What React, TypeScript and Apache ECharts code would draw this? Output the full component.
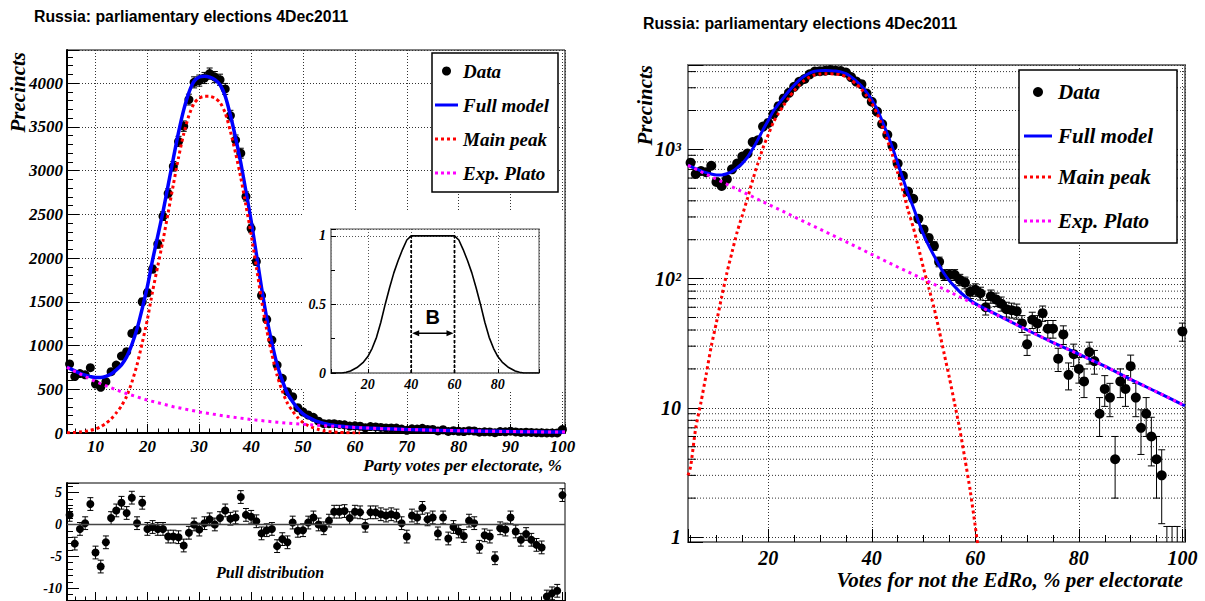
import React, { useEffect, useRef } from 'react';
import * as echarts from 'echarts';

// ---------- texts ----------
const TITLE = 'Russia: parliamentary elections 4Dec2011';
const X_TITLE_LEFT = 'Party votes per electorate, %';
const X_TITLE_RIGHT = 'Votes for not the EdRo, % per electorate';
const Y_TITLE = 'Precincts';
const PULL_TITLE = 'Pull distribution';
const LEGEND_LABELS = ['Data', 'Full model', 'Main peak', 'Exp. Plato'];
const PLATEAU_LABEL = 'B';

// ---------- data ----------
const BIN_FIRST = 5; // first bin centre, bins of width 1 up to 100
const COUNTS = [
  790, 645, 680, 665, 747, 560, 522, 587, 701, 777,
  880, 930, 1139, 1177, 1501, 1604, 1875, 2160, 2480, 2740,
  3050, 3335, 3509, 3813, 4010, 4030, 4060, 4110, 4070, 4040,
  3935, 3630, 3350, 3200, 2705, 2339, 1962, 1573, 1299, 1063,
  777, 625, 472, 415, 290, 240, 206, 179, 135, 107,
  107, 107, 98, 93, 79, 82, 77, 60, 73, 69,
  64, 58, 57, 56, 45, 31, 48, 45, 54, 41,
  41, 24, 37, 18, 26, 20, 16, 27, 23, 9,
  14, 12, 4, 16, 14, 21, 12, 7, 9, 6,
  4, 3, 0.5, 0.5, 0.5, 39,
];
const PULLS = [
  1.5, -3.0, -0.7, 0.2, 3.2, -4.4, -6.6, -2.8, 1.0, 2.2,
  3.4, 1.8, 4.2, 0.2, 3.4, -0.7, -0.4, -0.7, -0.7, -1.9,
  -1.9, -2.0, -3.3, -1.3, 0.0, -0.8, 0.2, 0.8, 0.0, 1.0,
  2.2, 0.9, 1.1, 4.3, 1.5, 1.2, 0.5, -1.4, -0.9, -0.7,
  -3.4, -2.3, -2.8, 0.3, -1.0, -0.9, 0.3, 1.1, 0.0, -0.6,
  0.6, 2.0, 2.0, 2.1, 1.0, 2.0, 1.9, -0.2, 1.9, 1.9,
  1.6, 1.4, 1.6, 1.4, 0.2, -1.9, 1.4, 1.1, 2.6, 0.8,
  1.1, -1.4, 1.1, -2.2, -0.4, -1.1, -1.8, 0.6, 0.2, -3.5,
  -1.7, -1.9, -5.3, -0.6, -0.8, 1.1, -1.1, -2.4, -1.5, -2.4,
  -3.2, -3.6, -11.3, -10.8, -10.4, 4.6,
];
const PULL_SIGMA = 1;

const PEAK_X = [4.5, 5, 6, 7, 8, 9, 10, 11, 12, 13, 14, 15, 16, 17, 18, 19, 20, 21, 22, 23, 24, 25, 26, 27, 28, 29, 30,
  31, 32, 33, 34, 35, 36, 37, 38, 39, 40, 41, 42, 43, 44, 45, 46, 47, 48, 49, 50, 51, 52, 53, 54, 55, 56, 57, 58, 59, 60, 61];
const PEAK_Y = [3, 3.5, 7, 11, 18, 30, 46, 72, 110, 160, 230, 310, 420, 580, 780, 1030, 1300, 1620, 1910, 2200, 2520, 2840,
  3150, 3420, 3630, 3770, 3830, 3850, 3850, 3830, 3780, 3660, 3450, 3200, 2920, 2600, 2270, 1900, 1520, 1180, 900, 660,
  480, 340, 250, 175, 120, 85, 60, 40, 26, 17, 10.8, 6.8, 4, 2.3, 1.2, 0.6];

const FULL_X = [4.5, 5, 6, 7, 8, 9, 10, 11, 12, 13, 14, 15, 16, 17, 18, 19, 20, 21, 22, 23, 24, 25, 26, 27, 28, 29, 30,
  31, 32, 33, 34, 35, 36, 37, 38, 39, 40, 41, 42, 43, 44, 45, 46, 47, 48, 49, 50, 51, 52, 53, 54, 55, 56, 57, 58, 59, 60, 61,
  65, 70, 75, 80, 85, 90, 95, 100, 100.5];
const FULL_Y = [755, 739, 710, 683, 661, 645, 634, 634, 648, 674, 722, 780, 870, 1010, 1191, 1423, 1676, 1980, 2254, 2529,
  2835, 3141, 3438, 3695, 3893, 4022, 4071, 4080, 4070, 4041, 3982, 3853, 3634, 3376, 3089, 2761, 2424, 2048, 1661, 1315,
  1029, 783, 598, 453, 358, 278, 219, 180, 151, 127, 109, 96, 87, 79, 73, 68, 64, 61,
  50.5, 40, 32, 26, 21, 16.6, 13.3, 10.6, 10.4];

const PLATO_X = [4.5, 5, 10, 15, 20, 25, 30, 35, 40, 45, 50, 55, 60, 65, 70, 75, 80, 85, 90, 95, 100, 100.5];
const PLATO_Y = [752, 735, 588, 470, 376, 301, 241, 193, 154, 123, 99, 79, 63, 50.5, 40, 32, 26, 21, 16.6, 13.3, 10.6, 10.4];

const INSET_X = [3, 8, 10, 12, 15, 18, 20, 22, 24, 26, 28, 30, 32, 34, 36, 38, 40,
  60, 62, 64, 66, 68, 70, 72, 74, 76, 78, 80, 82, 85, 88, 90, 92, 99];
const INSET_Y = [0, 0, 0.005, 0.015, 0.04, 0.08, 0.12, 0.18, 0.26, 0.37, 0.5, 0.62, 0.73, 0.82, 0.9, 0.97, 1,
  1, 0.97, 0.9, 0.82, 0.73, 0.62, 0.5, 0.37, 0.26, 0.18, 0.12, 0.08, 0.04, 0.015, 0.005, 0, 0];
const PLATEAU_EDGES = [40, 60];

const LOG_MINOR = [2, 3, 4, 5, 6, 7, 8, 9, 20, 30, 40, 50, 60, 70, 80, 90, 200, 300, 400, 500, 600, 700, 800, 900, 2000, 3000, 4000];

// ---------- styling ----------
const X_MIN = 4.5;
const X_MAX = 100.5;
const LOG_MIN = 0.915;
const LOG_MAX = 4500;
const ARROW_LEVEL = 0.29;
const LABEL_LEVEL = 0.41;
const BLUE = '#0000ff';
const RED = '#ff0000';
const MAGENTA = '#ff00ff';
const SERIF = '"Liberation Serif", "Times New Roman", Times, serif';
const SANS = '"Liberation Sans", Arial, Helvetica, sans-serif';
const DOTTED = [1, 2];

const lab = (size: number) => ({
  fontFamily: SERIF, fontStyle: 'italic', fontWeight: 'bold', fontSize: size, color: '#000',
});

const zip = (xs: number[], ys: number[]) => xs.map((x, i) => [x, ys[i]]);

function errorBars(cap: number) {
  return (_params: any, api: any) => {
    const x = api.value(0);
    const lo = api.value(1);
    const hi = api.value(2);
    const clamped = api.value(3);
    const a = api.coord([x, lo]);
    const b = api.coord([x, hi]);
    const st = { stroke: '#000', lineWidth: 1 };
    const ch: any[] = [
      { type: 'line', shape: { x1: a[0], y1: a[1], x2: b[0], y2: b[1] }, style: st },
      { type: 'line', shape: { x1: b[0] - cap, y1: b[1], x2: b[0] + cap, y2: b[1] }, style: st },
    ];
    if (!clamped) ch.push({ type: 'line', shape: { x1: a[0] - cap, y1: a[1], x2: a[0] + cap, y2: a[1] }, style: st });
    return { type: 'group', children: ch };
  };
}

function logMinorRender(params: any, api: any) {
  const p = api.coord([api.value(0), api.value(1)]);
  const cs = params.coordSys;
  return {
    type: 'group',
    children: [
      { type: 'line', shape: { x1: cs.x, y1: p[1], x2: cs.x + cs.width, y2: p[1] }, style: { stroke: '#333', lineWidth: 1, lineDash: DOTTED } },
      { type: 'line', shape: { x1: cs.x, y1: p[1], x2: cs.x + 8, y2: p[1] }, style: { stroke: '#000', lineWidth: 1 } },
    ],
  };
}

function plateauRender(_params: any, api: any) {
  const a = api.value(0);
  const b = api.value(1);
  const a0 = api.coord([a, 0]);
  const a1 = api.coord([a, 1]);
  const b0 = api.coord([b, 0]);
  const b1 = api.coord([b, 1]);
  const ya = api.coord([a, ARROW_LEVEL])[1];
  const mid = api.coord([(a + b) / 2, LABEL_LEVEL]);
  const dash = { stroke: '#000', lineWidth: 1.8, lineDash: [3, 2] };
  const solid = { stroke: '#000', lineWidth: 1.5 };
  const hl = 7;
  const hw = 3;
  const ax = a0[0] + 1;
  const bx = b0[0] - 1;
  return {
    type: 'group',
    children: [
      { type: 'line', shape: { x1: a0[0], y1: a0[1], x2: a1[0], y2: a1[1] }, style: dash },
      { type: 'line', shape: { x1: b0[0], y1: b0[1], x2: b1[0], y2: b1[1] }, style: dash },
      { type: 'line', shape: { x1: ax + 4, y1: ya, x2: bx - 4, y2: ya }, style: solid },
      { type: 'polygon', shape: { points: [[ax, ya], [ax + hl, ya - hw], [ax + hl, ya + hw]] }, style: { fill: '#000' } },
      { type: 'polygon', shape: { points: [[bx, ya], [bx - hl, ya - hw], [bx - hl, ya + hw]] }, style: { fill: '#000' } },
      {
        type: 'text', x: mid[0], y: mid[1],
        style: { text: PLATEAU_LABEL, fill: '#000', fontFamily: SANS, fontWeight: 'bold', fontSize: 20, align: 'center', verticalAlign: 'middle' },
      },
    ],
  };
}

function legend(bx: number, by: number, bw: number, bh: number, mx0: number, mx1: number, tx: number,
  rows: number[], fontSize: number, dotR: number) {
  const items: any[] = [
    { type: 'rect', z: 100, silent: true, shape: { x: bx, y: by, width: bw, height: bh }, style: { fill: '#fff', stroke: '#000', lineWidth: 1.5 } },
    { type: 'circle', z: 101, silent: true, shape: { cx: (mx0 + mx1) / 2, cy: rows[0], r: dotR }, style: { fill: '#000' } },
    { type: 'line', z: 101, silent: true, shape: { x1: mx0, y1: rows[1], x2: mx1, y2: rows[1] }, style: { stroke: BLUE, lineWidth: 3 } },
    { type: 'line', z: 101, silent: true, shape: { x1: mx0, y1: rows[2], x2: mx1, y2: rows[2] }, style: { stroke: RED, lineWidth: 3, lineDash: [3, 3] } },
    { type: 'line', z: 101, silent: true, shape: { x1: mx0, y1: rows[3], x2: mx1, y2: rows[3] }, style: { stroke: MAGENTA, lineWidth: 3, lineDash: [3, 3] } },
  ];
  LEGEND_LABELS.forEach((t, i) => {
    items.push({
      type: 'text', z: 101, silent: true, x: tx, y: rows[i],
      style: { text: t, fill: '#000', fontFamily: SERIF, fontStyle: 'italic', fontWeight: 'bold', fontSize, align: 'left', verticalAlign: 'middle' },
    });
  });
  return items;
}

function text(t: string, x: number, y: number, opts: any, extra: any = {}) {
  return { type: 'text', z: 100, silent: true, x, y, ...extra, style: { text: t, fill: '#000', ...opts } };
}

function buildOption() {
  const dataXY = COUNTS.map((v, i) => [BIN_FIRST + i, v]);
  const errLin = COUNTS.map((v, i) => {
    const e = Math.sqrt(v);
    return [BIN_FIRST + i, v - e, v + e, 0];
  });
  const errLog = COUNTS.map((v, i) => {
    const e = Math.sqrt(v);
    const lo = v - e;
    return [BIN_FIRST + i, lo > LOG_MIN ? lo : LOG_MIN, v + e, lo > LOG_MIN ? 0 : 1];
  });
  const pullXY = PULLS.map((v, i) => [BIN_FIRST + i, v]);
  const pullErr = PULLS.map((v, i) => [BIN_FIRST + i, v - PULL_SIGMA, v + PULL_SIGMA, 0]);
  const full = zip(FULL_X, FULL_Y);
  const peak = zip(PEAK_X, PEAK_Y);
  const plato = zip(PLATO_X, PLATO_Y);

  const tickFmt = (step: number, max: number) => (v: number) =>
    Math.abs(v / step - Math.round(v / step)) < 1e-6 && v <= max + 1e-9 ? String(Math.round(v * 100) / 100) : '';

  const linX = (grid: number, showLabels: boolean, showSplit: boolean, tickLen: number) => ({
    type: 'value', gridIndex: grid, min: X_MIN, max: X_MAX, splitNumber: 10, minInterval: 10, maxInterval: 10,
    axisLine: { show: true, onZero: false, lineStyle: { color: '#000', width: 2 } },
    axisTick: { show: true, inside: true, length: tickLen, lineStyle: { color: '#000', width: 1 } },
    minorTick: { show: true, splitNumber: 5, length: tickLen / 2, lineStyle: { color: '#000', width: 1 } },
    splitLine: { show: showSplit, lineStyle: { color: '#333', width: 1, type: DOTTED } },
    axisLabel: { show: showLabels, ...lab(17), margin: 5, formatter: tickFmt(10, 100) },
  });

  const dot = { color: '#000', opacity: 1 };

  const series: any[] = [
    // ----- left main plot -----
    { type: 'custom', xAxisIndex: 0, yAxisIndex: 0, z: 2, silent: true, clip: true, renderItem: errorBars(3), data: errLin },
    { type: 'scatter', name: 'Data', xAxisIndex: 0, yAxisIndex: 0, z: 3, symbol: 'circle', symbolSize: 9, itemStyle: dot, data: dataXY },
    { type: 'line', name: 'Full model', xAxisIndex: 0, yAxisIndex: 0, z: 4, symbol: 'none', smooth: 0.25, lineStyle: { color: BLUE, width: 3.5 }, data: full },
    { type: 'line', name: 'Main peak', xAxisIndex: 0, yAxisIndex: 0, z: 5, symbol: 'none', smooth: 0.25, lineStyle: { color: RED, width: 3, type: [3, 3] }, data: peak },
    { type: 'line', name: 'Exp. Plato', xAxisIndex: 0, yAxisIndex: 0, z: 6, symbol: 'none', lineStyle: { color: MAGENTA, width: 3, type: [3, 4] }, data: plato },
    // ----- inset -----
    { type: 'line', xAxisIndex: 1, yAxisIndex: 1, z: 7, symbol: 'none', lineStyle: { color: '#000', width: 1.6 }, data: zip(INSET_X, INSET_Y) },
    { type: 'custom', xAxisIndex: 1, yAxisIndex: 1, z: 7, silent: true, renderItem: plateauRender, data: [PLATEAU_EDGES] },
    // ----- pull -----
    { type: 'custom', xAxisIndex: 2, yAxisIndex: 2, z: 2, silent: true, clip: true, renderItem: errorBars(3), data: pullErr },
    {
      type: 'scatter', xAxisIndex: 2, yAxisIndex: 2, z: 3, symbol: 'circle', symbolSize: 8, itemStyle: dot, data: pullXY,
      markLine: { silent: true, symbol: 'none', animation: false, label: { show: false }, lineStyle: { color: '#444', width: 1.3, type: 'solid' }, data: [{ yAxis: 0 }] },
    },
    // ----- right log plot -----
    { type: 'custom', xAxisIndex: 3, yAxisIndex: 3, z: 1, silent: true, renderItem: logMinorRender, data: LOG_MINOR.map((v) => [50, v]) },
    { type: 'custom', xAxisIndex: 3, yAxisIndex: 3, z: 2, silent: true, clip: true, renderItem: errorBars(3.5), data: errLog },
    { type: 'scatter', xAxisIndex: 3, yAxisIndex: 3, z: 3, symbol: 'circle', symbolSize: 10, itemStyle: dot, data: dataXY },
    { type: 'line', xAxisIndex: 3, yAxisIndex: 3, z: 4, symbol: 'none', smooth: 0.25, lineStyle: { color: BLUE, width: 3 }, data: full },
    { type: 'line', xAxisIndex: 3, yAxisIndex: 3, z: 5, symbol: 'none', smooth: 0.25, lineStyle: { color: RED, width: 3, type: [3, 3] }, data: peak },
    { type: 'line', xAxisIndex: 3, yAxisIndex: 3, z: 6, symbol: 'none', lineStyle: { color: MAGENTA, width: 3, type: [3, 4] }, data: plato },
  ];

  const graphic: any[] = [
    // white pad behind the inset
    { type: 'rect', z: 1, silent: true, shape: { x: 302, y: 210, width: 262, height: 182 }, style: { fill: '#fff' } },
    text(TITLE, 34, 16, { fontFamily: SANS, fontWeight: 'bold', fontSize: 15.8, align: 'left', verticalAlign: 'middle' }),
    text(TITLE, 643, 23, { fontFamily: SANS, fontWeight: 'bold', fontSize: 15.8, align: 'left', verticalAlign: 'middle' }),
    text(Y_TITLE, 18, 52, { fontFamily: SERIF, fontStyle: 'italic', fontWeight: 'bold', fontSize: 21, align: 'right', verticalAlign: 'middle' }, { rotation: Math.PI / 2 }),
    text(Y_TITLE, 645, 65, { fontFamily: SERIF, fontStyle: 'italic', fontWeight: 'bold', fontSize: 21, align: 'right', verticalAlign: 'middle' }, { rotation: Math.PI / 2 }),
    text(X_TITLE_LEFT, 562, 465, { fontFamily: SERIF, fontStyle: 'italic', fontWeight: 'bold', fontSize: 17, align: 'right', verticalAlign: 'middle' }),
    text(X_TITLE_RIGHT, 1183, 580, { fontFamily: SERIF, fontStyle: 'italic', fontWeight: 'bold', fontSize: 21, align: 'right', verticalAlign: 'middle' }),
    text(PULL_TITLE, 270, 572, { fontFamily: SERIF, fontStyle: 'italic', fontWeight: 'bold', fontSize: 16, align: 'center', verticalAlign: 'middle' }),
    ...legend(432, 53, 126, 139, 435, 458, 463, [71, 105, 139, 173], 19, 4.5),
    ...legend(1019, 70, 158, 173, 1024, 1052, 1058, [92, 136, 177, 221], 21, 5),
  ];

  return {
    animation: false,
    backgroundColor: '#fff',
    textStyle: { fontFamily: SERIF },
    grid: [
      { left: 67, top: 50, width: 498, height: 383, show: true, borderColor: '#000', borderWidth: 1, backgroundColor: 'transparent' },
      { left: 331, top: 229, width: 208, height: 144, show: true, borderColor: '#888', borderWidth: 1.5, backgroundColor: '#fff', z: 3 },
      { left: 67, top: 483, width: 498, height: 118, show: true, borderColor: '#000', borderWidth: 1, backgroundColor: 'transparent' },
      { left: 688, top: 65, width: 497, height: 477, show: true, borderColor: '#777', borderWidth: 2, backgroundColor: 'transparent' },
    ],
    xAxis: [
      linX(0, true, true, 9),
      {
        type: 'value', gridIndex: 1, min: 3, max: 99, splitNumber: 5, minInterval: 20, maxInterval: 20, z: 4,
        axisLine: { show: true, onZero: false, lineStyle: { color: '#888', width: 1.5 } },
        axisTick: { show: true, inside: true, length: 4, lineStyle: { color: '#000' } },
        splitLine: { show: true, lineStyle: { color: '#555', width: 1, type: DOTTED } },
        axisLabel: { ...lab(14), margin: 4, formatter: tickFmt(20, 80) },
      },
      linX(2, false, false, 9),
      {
        type: 'value', gridIndex: 3, min: X_MIN, max: X_MAX, splitNumber: 5, minInterval: 20, maxInterval: 20,
        axisLine: { show: true, onZero: false, lineStyle: { color: '#777', width: 2 } },
        axisTick: { show: true, inside: true, length: 13, lineStyle: { color: '#000', width: 1 } },
        minorTick: { show: true, splitNumber: 4, length: 7, lineStyle: { color: '#000', width: 1 } },
        splitLine: { show: true, lineStyle: { color: '#333', width: 1, type: DOTTED } },
        axisLabel: { ...lab(20), margin: 6, formatter: tickFmt(20, 100) },
      },
    ],
    yAxis: [
      {
        type: 'value', gridIndex: 0, min: 0, max: 4380, interval: 500,
        axisLine: { show: true, onZero: false, lineStyle: { color: '#000', width: 2 } },
        axisTick: { show: true, inside: true, length: 12, lineStyle: { color: '#000', width: 1 } },
        minorTick: { show: true, splitNumber: 5, length: 6, lineStyle: { color: '#000', width: 1 } },
        splitLine: { show: true, lineStyle: { color: '#333', width: 1, type: DOTTED } },
        axisLabel: { ...lab(17), margin: 4, showMaxLabel: false, formatter: tickFmt(500, 4000) },
      },
      {
        type: 'value', gridIndex: 1, min: 0, max: 1.05, interval: 0.5, z: 4,
        axisLine: { show: true, onZero: false, lineStyle: { color: '#888', width: 1.5 } },
        axisTick: { show: true, inside: true, length: 5, lineStyle: { color: '#000' } },
        minorTick: { show: true, splitNumber: 2, length: 4, lineStyle: { color: '#000' } },
        splitLine: { show: true, lineStyle: { color: '#555', width: 1, type: DOTTED } },
        axisLabel: { ...lab(14), margin: 5, showMaxLabel: false, formatter: tickFmt(0.5, 1) },
      },
      {
        type: 'value', gridIndex: 2, min: -12, max: 6.5, splitNumber: 4, minInterval: 5, maxInterval: 5,
        axisLine: { show: true, onZero: false, lineStyle: { color: '#000', width: 2 } },
        axisTick: { show: true, inside: true, length: 12, lineStyle: { color: '#000', width: 1 } },
        minorTick: { show: true, splitNumber: 5, length: 6, lineStyle: { color: '#000', width: 1 } },
        splitLine: { show: false },
        axisLabel: { ...lab(14), margin: 5, formatter: tickFmt(5, 5) },
      },
      {
        type: 'log', logBase: 10, gridIndex: 3, min: LOG_MIN, max: LOG_MAX,
        axisLine: { show: true, onZero: false, lineStyle: { color: '#777', width: 2 } },
        axisTick: { show: true, inside: true, length: 15, lineStyle: { color: '#000', width: 1 } },
        minorTick: { show: false },
        splitLine: { show: true, lineStyle: { color: '#333', width: 1, type: DOTTED } },
        axisLabel: {
          ...lab(20), margin: 7,
          formatter: (v: number) => {
            const e = Math.log10(v);
            const r = Math.round(e);
            if (Math.abs(e - r) > 1e-6) return '';
            if (r === 0) return '1';
            if (r === 1) return '10';
            if (r === 2) return '10\u00B2';
            if (r === 3) return '10\u00B3';
            return '';
          },
        },
      },
    ],
    series,
    graphic,
  };
}

export default function App() {
  const ref = useRef<HTMLDivElement>(null);
  useEffect(() => {
    if (!ref.current) return undefined;
    const chart = echarts.init(ref.current, null, { renderer: 'svg' });
    chart.setOption(buildOption() as any);
    return () => chart.dispose();
  }, []);
  return (
    <div
      ref={ref}
      style={{ position: 'fixed', left: 0, top: 0, width: 1205, height: 601, background: '#fff' }}
    />
  );
}
